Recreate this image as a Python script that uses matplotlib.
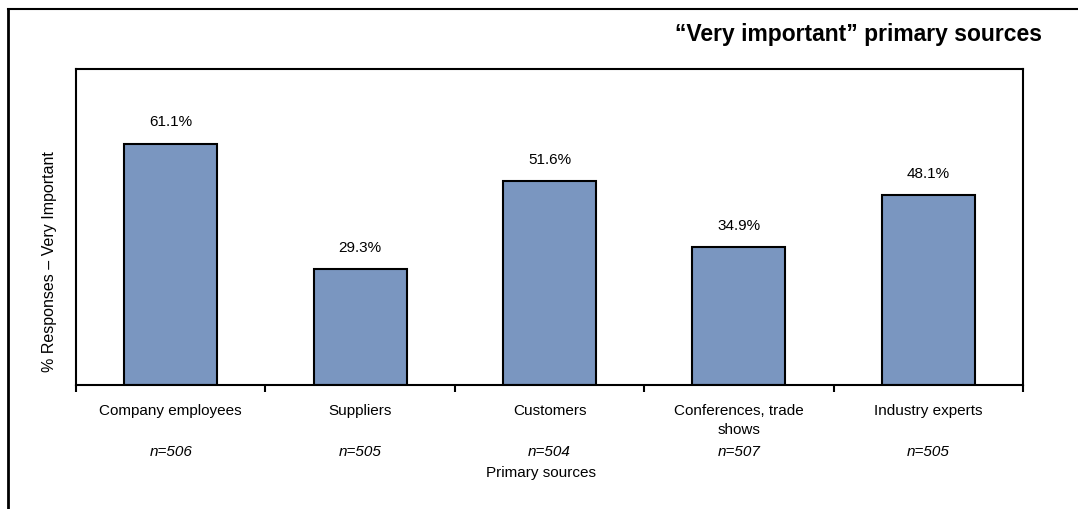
import matplotlib.pyplot as plt
from matplotlib.lines import Line2D

plt.rcParams["font.family"] = ["Liberation Sans", "DejaVu Sans"]

# Survey results
categories = ["Company employees", "Suppliers", "Customers",
              "Conferences, trade\nshows", "Industry experts"]
pct_very_important = [61.1, 29.3, 51.6, 34.9, 48.1]
sample_sizes = [506, 505, 504, 507, 505]

W, H = 1078, 510
fig = plt.figure(figsize=(W / 100, H / 100), dpi=100)

# plot area in pixel bounds -> figure fractions
left, right, top, bottom = 76, 1023, 70, 385.5
ax = fig.add_axes([left / W, 1 - bottom / H, (right - left) / W, (bottom - top) / H])

x = list(range(len(categories)))
bars = ax.bar(x, pct_very_important, width=0.49, color="#7A96C0",
              edgecolor="black", linewidth=1.5, zorder=2)

for rect, val in zip(bars, pct_very_important):
    ax.annotate(f"{val:.1f}%", (rect.get_x() + rect.get_width() / 2, val),
                xytext=(0, 11), textcoords="offset points",
                ha="center", va="bottom", fontsize=11)

ax.set_xlim(-0.5, len(categories) - 0.5)
ax.set_ylim(0, 80)
ax.set_yticks([])

# category boundaries get the tick marks, labels sit in between
ax.set_xticks([i - 0.5 for i in range(len(categories) + 1)])
ax.set_xticklabels([])
ax.tick_params(axis="x", direction="out", length=5, width=1.5)

for i, (cat, n) in enumerate(zip(categories, sample_sizes)):
    ax.text(i, -4.6, cat, ha="center", va="top", fontsize=11,
            linespacing=1.45, transform=ax.transData, clip_on=False)
    ax.text(i, -15.2, f"n={n}", ha="center", va="top", fontsize=11,
            style="italic", transform=ax.transData, clip_on=False)

for s in ax.spines.values():
    s.set_linewidth(1.5)

fig.text(541 / W, 1 - 473 / H, "Primary sources",
         ha="center", va="center", fontsize=11)
fig.text(50 / W, 1 - 262 / H, "% Responses \u2013 Very Important",
         rotation=90, ha="center", va="center", fontsize=11.5)
fig.text(1042 / W, 1 - 35 / H, "\u201cVery important\u201d primary sources",
         ha="right", va="center", fontsize=16.5, fontweight="bold")

# outer frame (only left and top edges are drawn)
fig.add_artist(Line2D([8 / W, 8 / W], [1 - 10 / H, 1 - 509 / H],
                      color="black", linewidth=2, transform=fig.transFigure))
fig.add_artist(Line2D([8 / W, 1], [1 - 10 / H, 1 - 10 / H],
                      color="black", linewidth=1.5, transform=fig.transFigure))

fig.savefig("out.png", dpi=100)
